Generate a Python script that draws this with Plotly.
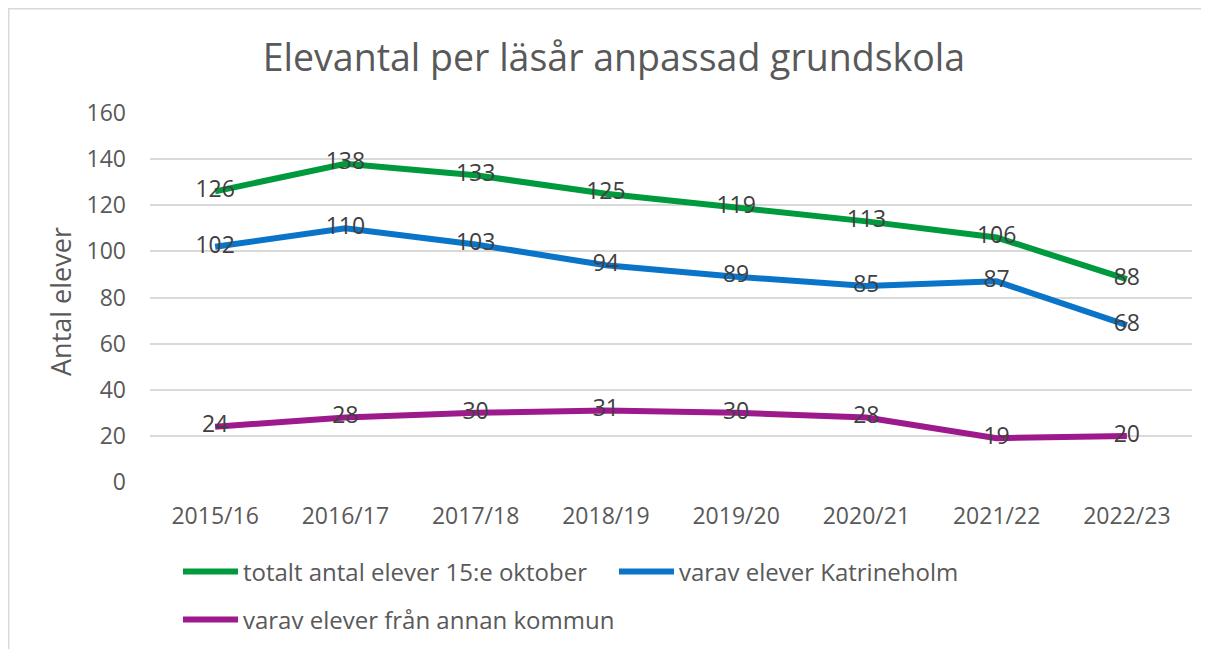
import plotly.graph_objects as go

years = ["2015/16", "2016/17", "2017/18", "2018/19", "2019/20", "2020/21", "2021/22", "2022/23"]
totalt = [126, 138, 133, 125, 119, 113, 106, 88]
katrineholm = [102, 110, 103, 94, 89, 85, 87, 68]
annan = [24, 28, 30, 31, 30, 28, 19, 20]

names = ["totalt antal elever 15:e oktober", "varav elever Katrineholm", "varav elever från annan kommun"]
colors = ["#009A3E", "#0A74C8", "#9C1A8C"]
series = [totalt, katrineholm, annan]
legends = ["legend", "legend", "legend2"]

FONT = "Open Sans"
fig = go.Figure()
for name, col, vals, lg in zip(names, colors, series, legends):
    fig.add_trace(go.Scatter(
        x=years, y=vals, name=name, mode="lines+text", legend=lg,
        line=dict(color=col, width=6),
        text=[str(v) for v in vals], textposition="middle center",
        textfont=dict(family=FONT, size=23, color="#404040"),
        cliponaxis=False,
    ))

legend_common = dict(orientation="h", xanchor="left", yanchor="middle", xref="container", yref="container",
                     entrywidth=366, entrywidthmode="pixels",
                     font=dict(family=FONT, size=24, color="#595959"),
                     itemwidth=55, bgcolor="rgba(0,0,0,0)")

fig.update_layout(
    width=1209, height=649,
    margin=dict(l=142, r=25, t=105, b=175, autoexpand=False),
    paper_bgcolor="white", plot_bgcolor="white",
    font=dict(family=FONT, color="#595959", size=23),
    title=dict(text="Elevantal per läsår anpassad grundskola", x=0.5012, xanchor="center",
               y=0.923, yanchor="middle", font=dict(family=FONT, size=37.5, color="#595959")),
    xaxis=dict(range=[-0.5, 7.5], showgrid=False, showline=False, zeroline=False, automargin=False,
               tickfont=dict(size=23, color="#595959"), ticklabelstandoff=18, fixedrange=True),
    yaxis=dict(range=[0, 160], dtick=20, showgrid=True, gridcolor="#D9D9D9", gridwidth=2,
               zeroline=False, showline=False, automargin=False,
               tickfont=dict(size=23, color="#595959"), ticklabelstandoff=23),
    showlegend=True,
    legend=dict(x=0.1406, y=0.131, **legend_common),
    legend2=dict(x=0.1406, y=0.057, **legend_common),
    annotations=[dict(text="Antal elever", textangle=-90, xref="paper", yref="paper",
                      x=-0.0864, y=0.4905, xanchor="center", yanchor="middle", showarrow=False,
                      font=dict(family=FONT, size=27, color="#595959"))],
    shapes=[dict(type="rect", xref="paper", yref="paper", x0=-0.1356, x1=1.2, y0=-0.6, y1=1.2825,
                 line=dict(color="#D9D9D9", width=1.5), fillcolor="rgba(0,0,0,0)", layer="below")],
)

fig.write_html("out.html")
